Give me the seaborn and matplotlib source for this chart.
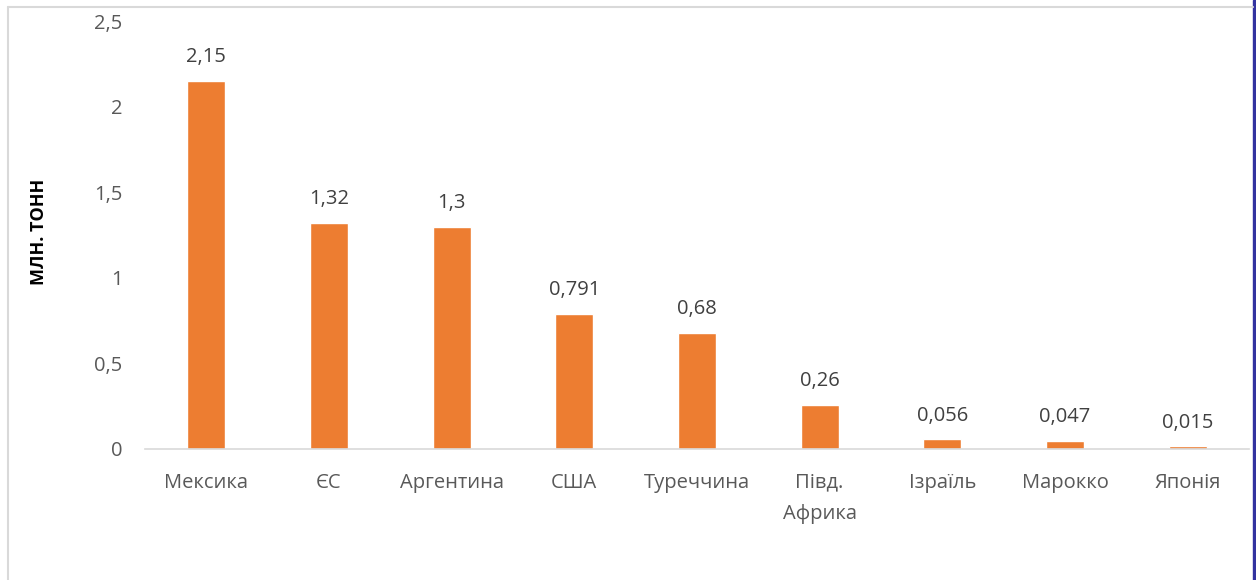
import matplotlib
matplotlib.use("Agg")
import matplotlib.pyplot as plt
import seaborn as sns
import pandas as pd
from matplotlib.lines import Line2D
from matplotlib.patches import Rectangle

categories = ["Мексика", "ЄС", "Аргентина", "США", "Туреччина", "Півд.\nАфрика", "Ізраїль", "Марокко", "Японія"]
values = [2.15, 1.32, 1.3, 0.791, 0.68, 0.26, 0.056, 0.047, 0.015]
value_labels = ["2,15", "1,32", "1,3", "0,791", "0,68", "0,26", "0,056", "0,047", "0,015"]
y_ticks = [0, 0.5, 1, 1.5, 2, 2.5]
y_tick_labels = ["0", "0,5", "1", "1,5", "2", "2,5"]
y_title = "МЛН. ТОНН"

sns.set_theme(style="white")
plt.rcParams["font.family"] = ["Open Sans", "DejaVu Sans"]

df = pd.DataFrame({"country": categories, "value": values})

fig = plt.figure(figsize=(12.56, 5.8), dpi=100)
ax = fig.add_axes([0.1154, 0.2259, 0.8790, 0.7371])
sns.barplot(data=df, x="country", y="value", color="#ED7D31", width=0.31,
            saturation=1, ax=ax)

ax.set_ylim(0, 2.5)
ax.set_yticks(y_ticks)
ax.set_yticklabels(y_tick_labels)
ax.tick_params(axis="both", length=0, labelsize=14.5, colors="#595959")
ax.tick_params(axis="y", pad=16)
ax.tick_params(axis="x", pad=17)
for t in ax.get_xticklabels():
    t.set_linespacing(1.75)
for s in ["top", "right", "left"]:
    ax.spines[s].set_visible(False)
ax.spines["bottom"].set_color("#D9D9D9")
ax.spines["bottom"].set_linewidth(1.2)
ax.set_xlabel("")
ax.set_ylabel("")
ax.set_facecolor("white")

for i, (v, lab) in enumerate(zip(values, value_labels)):
    ax.annotate(lab, (i, v), xytext=(0, 10), textcoords="offset points",
                ha="center", va="bottom", fontsize=14.5, color="#404040")

fig.text(0.031, 0.60, y_title, rotation=90, ha="center", va="center",
         fontsize=13, fontweight="bold", color="black")

# frame decorations
fig.add_artist(Line2D([8/1256, 8/1256], [0, 1 - 7/580], color="#D9D9D9", lw=1.5, transform=fig.transFigure))
fig.add_artist(Line2D([8/1256, 1253/1256], [1 - 7/580, 1 - 7/580], color="#D9D9D9", lw=1.5, transform=fig.transFigure))
fig.add_artist(Rectangle((1253/1256, 0), 3/1256, 1, color="#3333A0", transform=fig.transFigure))

fig.savefig("out.png", dpi=100, facecolor="white")
